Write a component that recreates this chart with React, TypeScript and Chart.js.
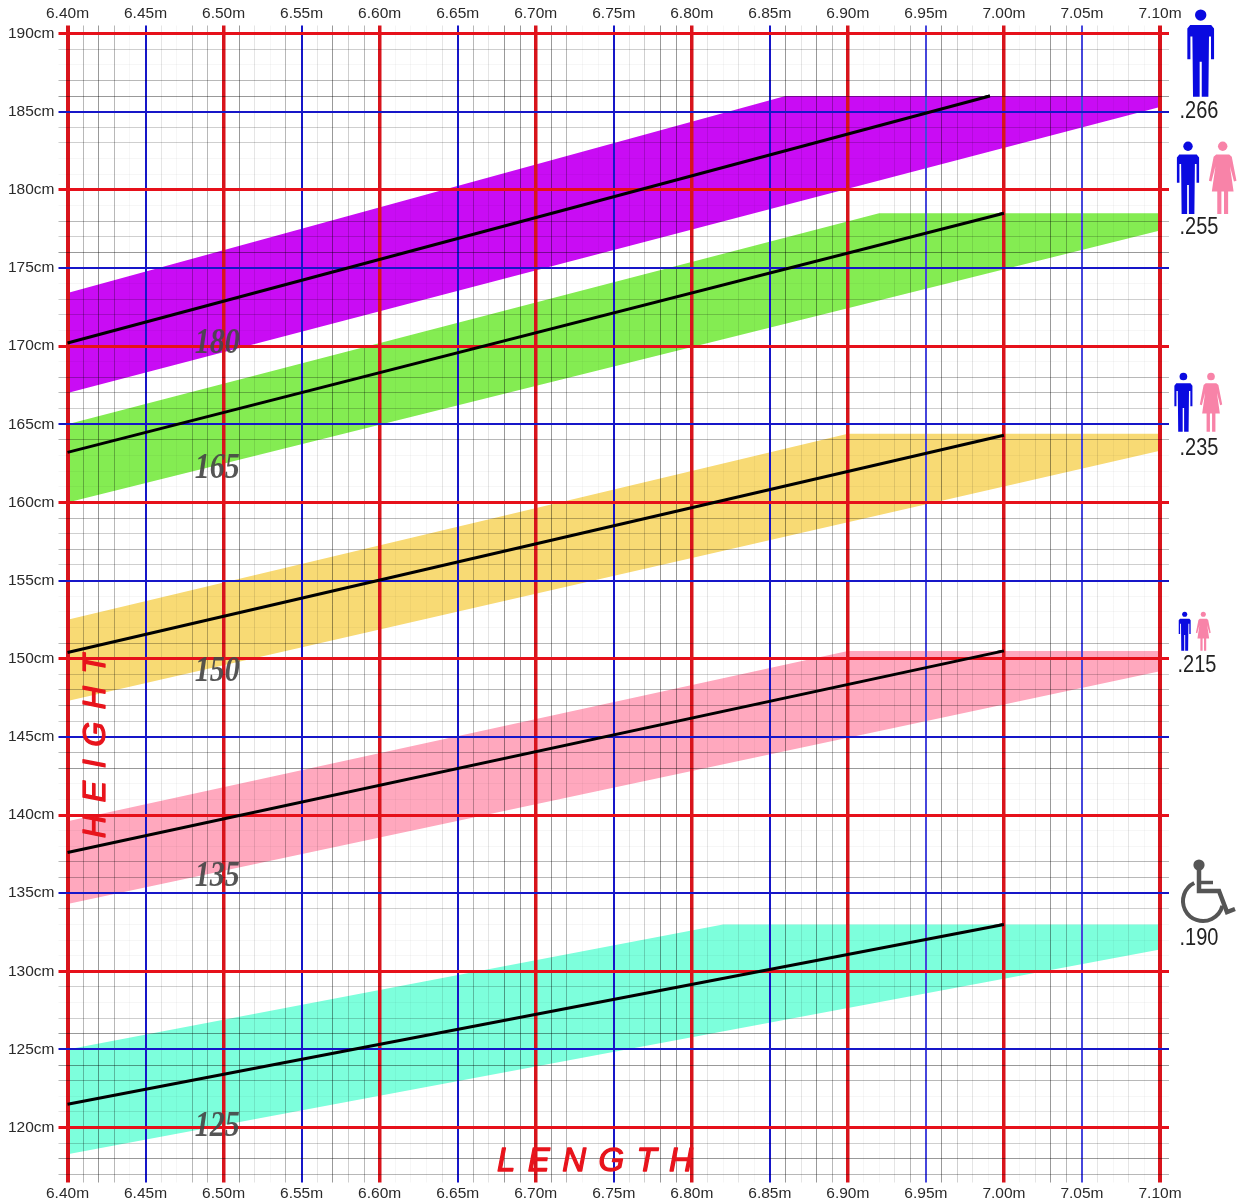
import React, { useEffect, useRef } from "react";
import { Chart, registerables } from "chart.js";

Chart.register(...registerables);

// ---- values ----
const xMin = 6.4;
const xMax = 7.1;
const yMin = 117;
const yMax = 190;

const xTickLabels = ["6.40m", "6.45m", "6.50m", "6.55m", "6.60m", "6.65m", "6.70m", "6.75m", "6.80m", "6.85m", "6.90m", "6.95m", "7.00m", "7.05m", "7.10m"];
const yTickLabels = ["120cm", "125cm", "130cm", "135cm", "140cm", "145cm", "150cm", "155cm", "160cm", "165cm", "170cm", "175cm", "180cm", "185cm", "190cm"];

const bandPurple = [{ x: 6.4, y: 173.4 }, { x: 6.86, y: 186 }, { x: 7.1, y: 186 }, { x: 7.1, y: 185.3 }, { x: 6.4, y: 167 }];
const bandGreen = [{ x: 6.4, y: 165 }, { x: 6.92, y: 178.5 }, { x: 7.1, y: 178.5 }, { x: 7.1, y: 177.4 }, { x: 6.4, y: 160 }];
const bandYellow = [{ x: 6.4, y: 152.5 }, { x: 6.9, y: 164.4 }, { x: 7.1, y: 164.4 }, { x: 7.1, y: 163.3 }, { x: 6.4, y: 147.3 }];
const bandPink = [{ x: 6.4, y: 139.6 }, { x: 6.9, y: 150.5 }, { x: 7.1, y: 150.5 }, { x: 7.1, y: 149.2 }, { x: 6.4, y: 134.3 }];
const bandTeal = [{ x: 6.4, y: 125 }, { x: 6.82, y: 133 }, { x: 7.1, y: 133 }, { x: 7.1, y: 131.4 }, { x: 6.4, y: 118.3 }];

const linePurple = [{ x: 6.4, y: 170.2 }, { x: 6.991, y: 186 }];
const lineGreen = [{ x: 6.4, y: 163.2 }, { x: 7.0, y: 178.5 }];
const lineYellow = [{ x: 6.4, y: 150.4 }, { x: 7.0, y: 164.3 }];
const linePink = [{ x: 6.4, y: 137.6 }, { x: 7.0, y: 150.5 }];
const lineTeal = [{ x: 6.4, y: 121.5 }, { x: 7.0, y: 133 }];

const bandLabels = [
  { text: "180", x: 6.496, y: 170.17 },
  { text: "165", x: 6.496, y: 162.17 },
  { text: "150", x: 6.496, y: 149.17 },
  { text: "135", x: 6.496, y: 136.07 },
  { text: "125", x: 6.496, y: 120.07 },
];

// grid shade of each minor line, keyed by value in hundredths of a metre / in cm
const xShade: Record<number, number> = {
  641: 3, 642: 4, 643: 3, 644: 0, 646: 1, 647: 0, 648: 3, 649: 3, 651: 4, 652: 1, 653: 0, 654: 3,
  656: 1, 657: 4, 658: 2, 659: 3, 661: 0, 662: 0, 663: 0, 664: 1, 666: 3, 667: 1, 668: 4, 669: 4,
  671: 4, 672: 3, 673: 0, 674: 0, 676: 1, 677: 2, 678: 4, 679: 4, 681: 1, 682: 0, 683: 1, 684: 0,
  686: 4, 687: 1, 688: 4, 689: 3, 691: 0, 692: 0, 693: 1, 694: 3, 696: 4, 697: 2, 698: 1, 699: 0,
  701: 0, 702: 1, 703: 4, 704: 3, 706: 1, 707: 0, 708: 1, 709: 0,
};
const yShade: Record<number, number> = {
  189: 2, 188: 0, 187: 3, 186: 4, 184: 2, 183: 2, 182: 0, 181: 0, 179: 0, 178: 3, 177: 2, 176: 4,
  174: 0, 173: 2, 172: 2, 171: 0, 169: 0, 168: 3, 167: 3, 166: 2, 164: 3, 163: 0, 162: 0, 161: 0,
  159: 3, 158: 2, 157: 3, 156: 2, 154: 0, 153: 0, 152: 0, 151: 3, 149: 2, 148: 3, 147: 3, 146: 2,
  144: 3, 143: 4, 142: 0, 141: 0, 139: 0, 138: 0, 137: 3, 136: 3, 134: 2, 133: 0, 132: 0, 131: 0,
  129: 2, 128: 0, 127: 2, 126: 4, 124: 4, 123: 3, 122: 0, 121: 1, 119: 2, 118: 4, 117: 3,
};
const shadeAlpha = [0.035, 0.1, 0.19, 0.28, 0.4];

const xTickValues: number[] = [];
for (let i = 640; i <= 710; i++) xTickValues.push(i / 100);
const yTickValues: number[] = [];
for (let i = 117; i <= 190; i++) yTickValues.push(i);

const RED_V = "#d8141c";
const RED_H = "#e6101a";
const BLUE = "#1616c8";
const BLUE_LIGHT = "#4646dc";

function xColor(v: number) {
  const k = Math.round(v * 100);
  if (k % 10 === 0) return RED_V;
  if (k % 5 === 0) return k === 695 || k === 705 ? BLUE_LIGHT : BLUE;
  return `rgba(0,0,0,${shadeAlpha[xShade[k] ?? 0]})`;
}
function xWidth(v: number) {
  const k = Math.round(v * 100);
  if (k === 640 || k === 710) return 4;
  if (k % 10 === 0) return 3.5;
  if (k % 5 === 0) return 2;
  return 1;
}
function yColor(v: number) {
  if (v % 10 === 0) return RED_H;
  if (v % 5 === 0) return BLUE;
  return `rgba(0,0,0,${shadeAlpha[yShade[v] ?? 0]})`;
}
function yWidth(v: number) {
  if (v % 10 === 0) return 3;
  if (v % 5 === 0) return 2;
  return 1;
}
function xLabel(v: number) {
  const k = Math.round(v * 100);
  return k % 5 === 0 ? xTickLabels[(k - 640) / 5] : "";
}
function yLabel(v: number) {
  return v % 5 === 0 && v >= 120 ? yTickLabels[(v - 120) / 5] : "";
}

// ---- side pictograms ----
type Ctx = CanvasRenderingContext2D;

function poly(ctx: Ctx, cx: number, top: number, h: number, half: number[][]) {
  ctx.beginPath();
  half.forEach(([x, y], i) => {
    const px = cx + x * h;
    const py = top + y * h;
    if (i === 0) ctx.moveTo(px, py);
    else ctx.lineTo(px, py);
  });
  [...half].reverse().forEach(([x, y]) => ctx.lineTo(cx - x * h, top + y * h));
  ctx.closePath();
  ctx.fill();
}

function man(ctx: Ctx, cx: number, top: number, h: number) {
  ctx.fillStyle = "#0a0ae0";
  ctx.beginPath();
  ctx.arc(cx, top + 0.065 * h, 0.065 * h, 0, Math.PI * 2);
  ctx.fill();
  poly(ctx, cx, top, h, [
    [0, 0.18], [0.12, 0.18], [0.153, 0.22], [0.153, 0.57], [0.118, 0.57], [0.118, 0.31],
    [0.095, 0.31], [0.088, 1], [0.012, 1], [0.012, 0.6], [0, 0.6],
  ]);
}

function woman(ctx: Ctx, cx: number, top: number, h: number) {
  ctx.fillStyle = "#f883a8";
  ctx.beginPath();
  ctx.arc(cx, top + 0.065 * h, 0.065 * h, 0, Math.PI * 2);
  ctx.fill();
  poly(ctx, cx, top, h, [
    [0, 0.18], [0.09, 0.18], [0.125, 0.21], [0.19, 0.54], [0.155, 0.55], [0.1, 0.34],
    [0.15, 0.69], [0.075, 0.69], [0.075, 1], [0.018, 1], [0.018, 0.69], [0, 0.69],
  ]);
}

function wheelchair(ctx: Ctx) {
  ctx.fillStyle = "#555";
  ctx.strokeStyle = "#555";
  ctx.beginPath();
  ctx.arc(1199, 865, 5.6, 0, Math.PI * 2);
  ctx.fill();
  ctx.lineCap = "butt";
  ctx.lineWidth = 4;
  ctx.beginPath();
  ctx.arc(1203, 901, 20, (-116 * Math.PI) / 180, (14 * Math.PI) / 180, true);
  ctx.stroke();
  ctx.lineJoin = "miter";
  ctx.lineWidth = 4.5;
  ctx.beginPath();
  ctx.moveTo(1199, 868);
  ctx.lineTo(1199, 891);
  ctx.lineTo(1219, 891);
  ctx.lineTo(1227, 912);
  ctx.lineTo(1235, 909);
  ctx.stroke();
  ctx.lineWidth = 3.5;
  ctx.beginPath();
  ctx.moveTo(1199, 882.5);
  ctx.lineTo(1213, 882.5);
  ctx.stroke();
}

function scaledText(ctx: Ctx, text: string, x: number, y: number, font: string, color: string, sy: number) {
  ctx.save();
  ctx.translate(x, y);
  ctx.scale(1, sy);
  ctx.font = font;
  ctx.fillStyle = color;
  ctx.textAlign = "center";
  ctx.textBaseline = "middle";
  ctx.fillText(text, 0, 0);
  ctx.restore();
}

const overlay = {
  id: "overlay",
  afterDraw(chart: any) {
    const ctx: Ctx = chart.ctx;
    // black lines sit above the grid
    chart.data.datasets.forEach((ds: any, i: number) => {
      if (ds.isCentre) chart.getDatasetMeta(i).dataset.draw(ctx, chart.chartArea);
    });
    const sx = chart.scales.x;
    const sy = chart.scales.y;
    bandLabels.forEach((l) => {
      scaledText(ctx, l.text, sx.getPixelForValue(l.x), sy.getPixelForValue(l.y), 'italic bold 30px "Liberation Serif"', "rgba(70,70,70,0.92)", 1.2);
    });

    ctx.save();
    ctx.fillStyle = "#e8141c";
    ctx.strokeStyle = "#e8141c";
    ctx.lineWidth = 1.3;
    ctx.lineJoin = "round";
    ctx.textBaseline = "middle";
    ctx.textAlign = "left";
    (ctx as any).letterSpacing = "12.4px";
    ctx.font = 'italic 33px "Liberation Sans"';
    ctx.fillText("LENGTH", 497, 1162);
    ctx.strokeText("LENGTH", 497, 1162);
    ctx.translate(96, 838);
    ctx.rotate(-Math.PI / 2);
    (ctx as any).letterSpacing = "12.6px";
    ctx.font = 'italic 32px "Liberation Sans"';
    ctx.fillText("HEIGHT", 0, 0);
    ctx.strokeText("HEIGHT", 0, 0);
    ctx.restore();

    man(ctx, 1200.7, 9.4, 87.3);
    man(ctx, 1188, 141.5, 72.5);
    woman(ctx, 1222.7, 141.5, 72.5);
    man(ctx, 1183.4, 372.7, 59);
    woman(ctx, 1211, 372.7, 59);
    man(ctx, 1184.7, 611.7, 39);
    woman(ctx, 1203.3, 611.7, 39);
    wheelchair(ctx);

    const font = '20px "Liberation Sans"';
    const ink = "#222";
    scaledText(ctx, ".266", 1199, 112, font, ink, 1.15);
    scaledText(ctx, ".255", 1199, 228, font, ink, 1.15);
    scaledText(ctx, ".235", 1199, 449, font, ink, 1.15);
    scaledText(ctx, ".215", 1197, 666, font, ink, 1.15);
    scaledText(ctx, ".190", 1199, 939, font, ink, 1.15);
  },
};

const band = (data: any[], color: string) => ({
  data,
  backgroundColor: color,
  borderWidth: 0,
  pointRadius: 0,
  fill: "shape",
  tension: 0,
});
const centre = (data: any[]) => ({
  data,
  borderColor: "#000",
  borderWidth: 3,
  pointRadius: 0,
  fill: false,
  tension: 0,
  isCentre: true,
  borderCapStyle: "butt",
});

const tickFont = { family: '"Liberation Sans"', size: 15.5 };

const xAxis = (position: string, onArea: boolean) => ({
  type: "linear",
  position,
  min: xMin,
  max: xMax,
  afterBuildTicks: (s: any) => {
    s.ticks = xTickValues.map((value) => ({ value }));
  },
  afterFit: (s: any) => {
    s.height = position === "top" ? 33.5 : 27.5;
  },
  border: { display: false },
  grid: {
    z: 1,
    drawOnChartArea: onArea,
    drawTicks: true,
    tickLength: 8,
    color: (c: any) => xColor(c.tick.value),
    tickColor: (c: any) => xColor(c.tick.value),
    lineWidth: (c: any) => xWidth(c.tick.value),
    tickWidth: (c: any) => xWidth(c.tick.value),
  },
  ticks: {
    autoSkip: false,
    maxRotation: 0,
    minRotation: 0,
    padding: 2,
    color: "#2a2a2a",
    font: tickFont,
    callback: (v: number) => xLabel(v),
  },
});

const yAxis = (position: string, onArea: boolean) => ({
  type: "linear",
  position,
  min: yMin,
  max: yMax,
  afterBuildTicks: (s: any) => {
    s.ticks = yTickValues.map((value) => ({ value }));
  },
  afterFit: (s: any) => {
    s.width = position === "left" ? 67.5 : 79;
  },
  border: { display: false },
  grid: {
    z: 1,
    drawOnChartArea: onArea,
    drawTicks: true,
    tickLength: 9,
    color: (c: any) => yColor(c.tick.value),
    tickColor: (c: any) => yColor(c.tick.value),
    lineWidth: (c: any) => yWidth(c.tick.value),
    tickWidth: (c: any) => yWidth(c.tick.value),
  },
  ticks: {
    autoSkip: false,
    padding: 4,
    color: "#2a2a2a",
    font: tickFont,
    callback: (v: number) => (position === "left" ? yLabel(v) : ""),
  },
});

export default function App() {
  const ref = useRef<HTMLCanvasElement>(null);
  useEffect(() => {
    document.body.style.margin = "0";
    const chart = new Chart(ref.current as HTMLCanvasElement, {
      type: "line",
      data: {
        datasets: [
          band(bandPurple, "#c90cf4"),
          band(bandGreen, "#84ec52"),
          band(bandYellow, "#f8da74"),
          band(bandPink, "#ffa8be"),
          band(bandTeal, "#7dffdc"),
          centre(linePurple),
          centre(lineGreen),
          centre(lineYellow),
          centre(linePink),
          centre(lineTeal),
        ] as any,
      },
      options: {
        responsive: false,
        animation: false,
        devicePixelRatio: 1,
        parsing: true,
        plugins: { legend: { display: false }, tooltip: { enabled: false }, title: { display: false } },
        layout: { padding: 0 },
        scales: {
          x: xAxis("bottom", true),
          xTop: xAxis("top", false),
          y: yAxis("left", true),
          yRight: yAxis("right", false),
        } as any,
      },
      plugins: [overlay],
    } as any);
    return () => chart.destroy();
  }, []);
  return (
    <div style={{ position: "absolute", left: 0, top: 0, width: 1239, height: 1202, overflow: "hidden", background: "#fff" }}>
      <canvas ref={ref} width={1239} height={1202} style={{ display: "block" }} />
    </div>
  );
}
